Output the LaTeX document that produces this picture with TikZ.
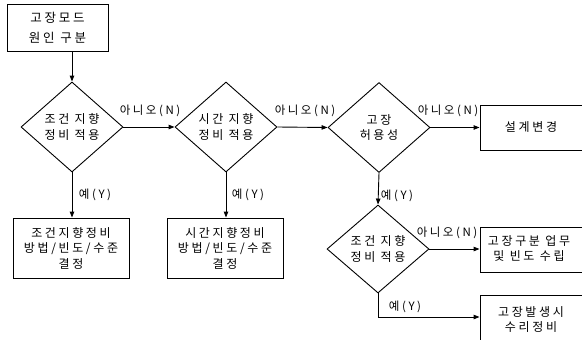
\documentclass[tikz,border=0pt]{standalone}
\usepackage{fontspec}
\usetikzlibrary{shapes.geometric,arrows.meta}
\newfontfamily\krfont[LetterSpace=22]{Noto Sans CJK KR}
\begin{document}
\begin{tikzpicture}[x=1pt,y=-1pt,
  every node/.style={font=\krfont\fontsize{12}{15.5}\selectfont},
  box/.style={draw,line width=0.9pt,rectangle,inner sep=0pt,align=center},
  dia/.style={draw,line width=0.9pt,diamond,inner sep=0pt,minimum width=102pt,minimum height=90pt},
  txt/.style={align=center,inner sep=0pt},
  lbl/.style={inner sep=0pt,font=\krfont\fontsize{11.5}{12}\selectfont},
  conn/.style={line width=0.9pt,-{Triangle[length=6pt,width=4.5pt]}}]
\useasboundingbox (0,0) rectangle (582,340);
\clip (0,0) rectangle (582,340);
% boxes
\node[box,minimum width=101pt,minimum height=47pt,font=\krfont\fontsize{12.5}{20}\selectfont] (top) at (57.5,27.5) {고장모드\\원인 구분};
\node[box,minimum width=116pt,minimum height=60pt] (b1) at (71,248) {조건지향정비\\방법/빈도/수준\\결정};
\node[box,minimum width=116pt,minimum height=60pt] (b2) at (225,248) {시간지향정비\\방법/빈도/수준\\결정};
\node[box,minimum width=116pt,minimum height=45pt] (b3) at (538,127.5) {};
\node[txt] (b3t) at (531,127.5) {설계변경};
\node[box,minimum width=116pt,minimum height=45pt] (b4) at (538,249.5) {};
\node[txt] (b4t) at (529,248.5) {고장구분 업무\\및 빈도 수립};
\node[box,minimum width=116pt,minimum height=52pt] (b5) at (538,321) {};
\node[txt] (b5t) at (531,319.5) {고장발생시\\수리정비};
% diamonds
\node[dia] (d1) at (72,127) {};
\node[txt] (d1t) at (d1) {조건 지향\\정비 적용};
\node[dia] (d2) at (226,127) {};
\node[txt] (d2t) at (d2) {시간 지향\\정비 적용};
\node[dia] (d3) at (379,127.5) {};
\node[txt] (d3t) at (d3) {고장\\허용성};
\node[dia,minimum height=88pt] (d4) at (378,249) {};
\node[txt] (d4t) at (d4) {조건 지향\\정비 적용};
% connectors
\draw[conn] (d1.north |- top.south) -- (d1.north);
\draw[conn] (d1.east) -- (d2.west);
\draw[conn] (d2.east) -- (d3.west);
\draw[conn] (d3.east) -- (d3.east -| b3.west);
\draw[conn] (d4.east) -- (d4.east -| b4.west);
\draw[conn] (d1.south) -- (d1.south |- b1.north);
\draw[conn] (d2.south) -- (d2.south |- b2.north);
\draw[conn] (d3.south) -- (d4.north);
\coordinate (c4) at (378,317);
\draw[conn] (d4.south) -- (c4) -- (c4 -| b5.west);
% labels
\node[lbl] (n1) at (150,111) {아니오(N)};
\node[lbl] (n2) at (305,111) {아니오(N)};
\node[lbl] (n3) at (448,111) {아니오(N)};
\node[lbl] (n4) at (447,233) {아니오(N)};
\node[lbl] (y1) at (95,195) {예(Y)};
\node[lbl] (y2) at (248,195) {예(Y)};
\node[lbl] (y3) at (397,196) {예(Y)};
\node[lbl] (y4) at (405,307) {예(Y)};
\end{tikzpicture}
\end{document}
